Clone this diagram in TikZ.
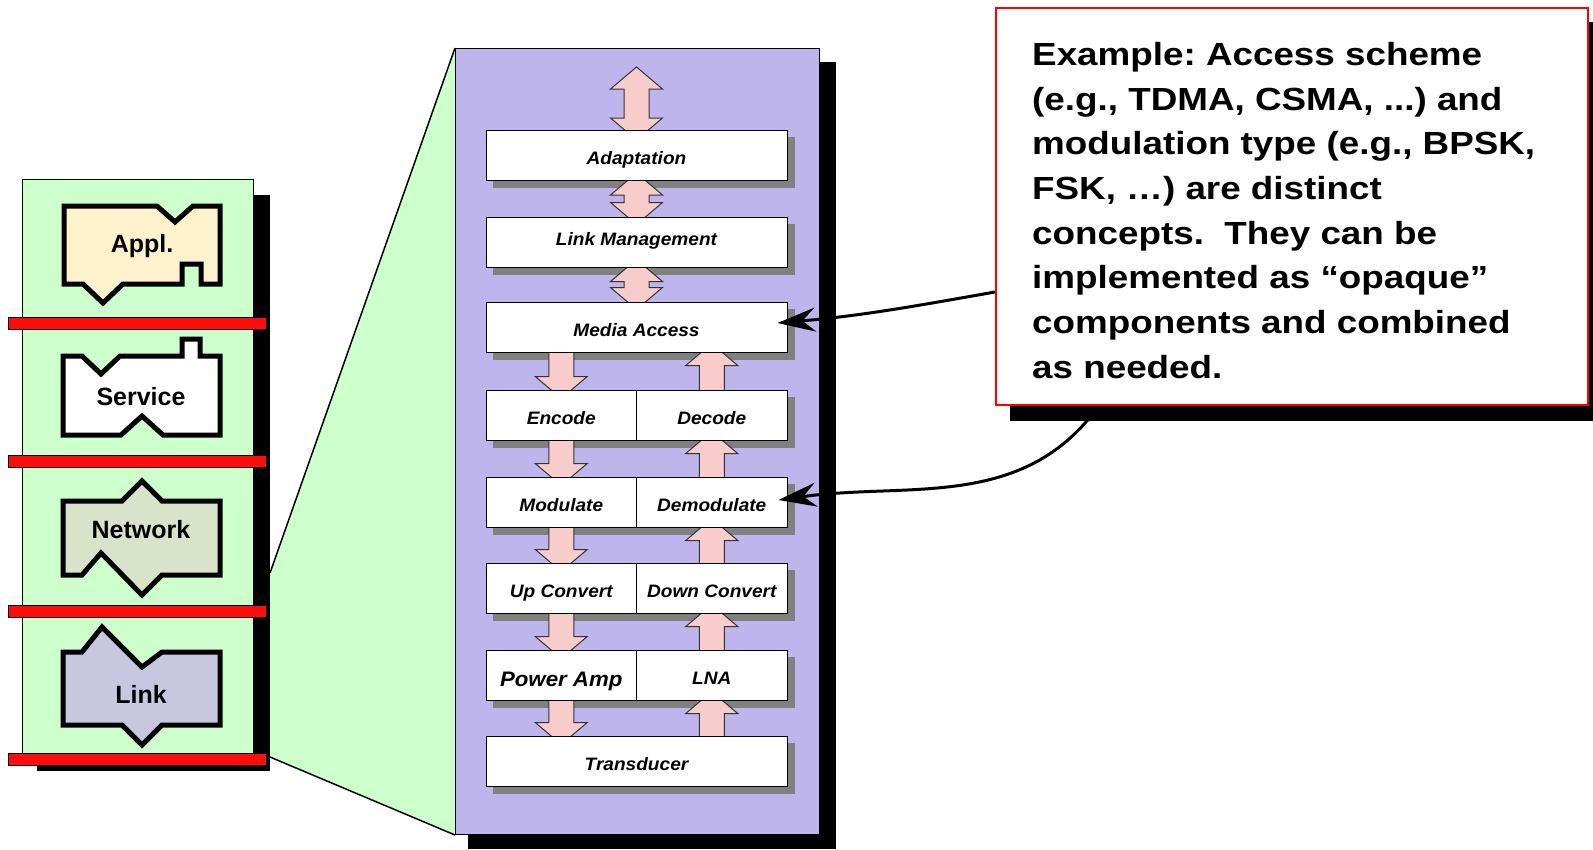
\documentclass[tikz,border=0pt]{standalone}
\usepackage{fontspec}
\setmainfont{Liberation Sans}
\newfontfamily\notefont[FakeStretch=1.15]{Liberation Sans}
\newfontfamily\blkfont[FakeStretch=1.06]{Liberation Sans}
\usetikzlibrary{arrows.meta}

\definecolor{panelgreen}{RGB}{204,255,204}
\definecolor{panelpurple}{RGB}{189,181,235}
\definecolor{applfill}{RGB}{253,242,204}
\definecolor{netfill}{RGB}{217,227,202}
\definecolor{linkfill}{RGB}{201,199,224}
\definecolor{barred}{RGB}{255,13,13}
\definecolor{arrowpink}{RGB}{249,204,204}

\pgfdeclarelayer{bg}
\pgfdeclarelayer{shd}
\pgfdeclarelayer{arr}
\pgfsetlayers{bg,shd,arr,main}

\tikzset{
  layer/.style={draw=black, line width=5pt, line join=miter},
  layerlabel/.style={font=\fontsize{25}{30}\selectfont\bfseries},
  blk/.style={draw=black, fill=white, line width=1pt, minimum height=50pt,
    inner sep=0pt, text height=18pt, text depth=0pt,
    font=\blkfont\fontsize{18}{20}\selectfont\bfseries\itshape},
  fullblk/.style={blk, minimum width=301pt},
  halfblk/.style={blk, minimum width=150.5pt},
  boxshadow/.style={fill=gray},
  arrowbody/.style={fill=arrowpink, draw=black!80, line width=1pt, line join=miter},
  redbar/.style={fill=barred, draw=black, line width=1pt},
  pointer/.style={line width=3pt, -{Stealth[length=38pt, width=24pt, inset=13pt]}}
}

% pink block arrows: shaft end #1, head base #2, tip shift #3
\newcommand{\sglarr}[3]{%
  \filldraw[arrowbody] ([xshift=-12.5pt]#1) -- ([xshift=12.5pt]#1) -- ([xshift=12.5pt]#2)
    -- ([xshift=26pt]#2) -- ([yshift=#3]#2) -- ([xshift=-26pt]#2) -- ([xshift=-12.5pt]#2) -- cycle;}
% from #1 down into #2, in the column of #3
\newcommand{\dnarr}[3]{%
  \path (#3.center |- #1.center) coordinate (s) (#3.center |- #2.north) coordinate (h0)
    ([yshift=13pt]h0) coordinate (h);
  \sglarr{s}{h}{-22pt}}
% from #1 up into #2, in the column of #3
\newcommand{\uparr}[3]{%
  \path (#3.center |- #1.center) coordinate (s) (#3.center |- #2.south) coordinate (h0)
    ([yshift=-13pt]h0) coordinate (h);
  \sglarr{s}{h}{22pt}}
% double arrow between head bases #1 (top) and #2 (bottom)
\newcommand{\dblarr}[2]{%
  \filldraw[arrowbody] ([xshift=-12.5pt]#1) -- ([xshift=-26pt]#1) -- ([yshift=22pt]#1)
    -- ([xshift=26pt]#1) -- ([xshift=12.5pt]#1) -- ([xshift=12.5pt]#2) -- ([xshift=26pt]#2)
    -- ([yshift=-22pt]#2) -- ([xshift=-26pt]#2) -- ([xshift=-12.5pt]#2) -- cycle;}
\newcommand{\dblbetween}[2]{%
  \path ([yshift=-14pt]#1.south) coordinate (d1) ([yshift=14pt]#2.north) coordinate (d2);
  \dblarr{d1}{d2}}

\begin{document}
\frenchspacing
\begin{tikzpicture}[x=1pt, y=-1pt]
  \useasboundingbox (0,0) rectangle (1593,849);

  \begin{pgfonlayer}{bg}
    % zoom wedge
    \fill[panelgreen] (270,573) -- (455,48) -- (455,835) -- (270,757) -- cycle;
    \draw[line width=1.5pt] (270,573) -- (455,48);
    \draw[line width=1.5pt] (270,757) -- (455,835);

    % protocol stack
    \fill[black] (37,195) rectangle (270,771);
    \filldraw[fill=panelgreen, draw=black, line width=1pt] (22,179) rectangle (253,753);
    \filldraw[layer, fill=applfill] (64,206) -- (157,206) -- (175,222) -- (193,206) -- (220,206)
      -- (220,284) -- (201,284) -- (201,264) -- (182,264) -- (182,284) -- (123,284) -- (103,303)
      -- (83,284) -- (64,284) -- cycle;
    \filldraw[layer, fill=white] (63,356) -- (82,356) -- (101,374) -- (120,356) -- (182,356)
      -- (182,339) -- (200,339) -- (200,356) -- (220,356) -- (220,435) -- (163,435) -- (142,416)
      -- (121,435) -- (63,435) -- cycle;
    \filldraw[layer, fill=netfill] (63,501) -- (122,501) -- (142,481) -- (162,501) -- (220,501)
      -- (220,575) -- (162,575) -- (142,595) -- (101,553) -- (82,575) -- (63,575) -- cycle;
    \filldraw[layer, fill=linkfill] (63,652) -- (82,652) -- (102,627) -- (142,667) -- (162,652)
      -- (220,652) -- (220,725) -- (162,725) -- (142,745) -- (122,725) -- (63,725) -- cycle;
    \foreach \y in {317,455,605,753}
      \filldraw[redbar] (8,\y) rectangle (266,\y+12);
    \node[layerlabel] (appl) at (142,246) {Appl.};
    \node[layerlabel] (serv) at (141,397) {Service};
    \node[layerlabel] (netw) at (141,530) {Network};
    \node[layerlabel] (link) at (141,694) {Link};

    % link layer detail
    \fill[black] (468,62) rectangle (836,849);
    \filldraw[fill=panelpurple, draw=black, line width=1pt] (455,48) rectangle (819,834);
  \end{pgfonlayer}

  % blocks
  \node[fullblk] (adapt) at (636.5,155.5) {Adaptation};
  \node[fullblk, text height=6pt] (linkm) at (636.5,242) {Link Management};
  \node[fullblk] (media) at (636.5,327) {Media Access};
  \node[halfblk] (enc) at (561.25,415) {Encode};
  \node[halfblk] (dec) at (711.75,415) {Decode};
  \node[halfblk] (mod) at (561.25,502) {Modulate};
  \node[halfblk] (demod) at (711.75,502) {Demodulate};
  \node[halfblk] (upc) at (561.25,588) {Up Convert};
  \node[halfblk] (downc) at (711.75,588) {Down Convert};
  \node[halfblk, text height=22pt, font=\blkfont\fontsize{21}{24}\selectfont\bfseries\itshape] (pamp) at (561.25,675) {Power Amp};
  \node[halfblk] (lna) at (711.75,675) {LNA};
  \node[fullblk] (transd) at (636.5,761) {Transducer};

  \begin{pgfonlayer}{shd}
    \foreach \b in {adapt,linkm,media,enc,dec,mod,demod,upc,downc,pamp,lna,transd}
      \fill[boxshadow] ([shift={(7,7)}]\b.north west) rectangle ([shift={(7,7)}]\b.south east);
  \end{pgfonlayer}

  \begin{pgfonlayer}{arr}
    \path ([yshift=41pt]adapt.north) coordinate (t1) ([yshift=12pt]adapt.north) coordinate (t2);
    \dblarr{t1}{t2}
    \dblbetween{adapt}{linkm}
    \dblbetween{linkm}{media}
    \dnarr{media}{enc}{enc}
    \dnarr{enc}{mod}{enc}
    \dnarr{mod}{upc}{enc}
    \dnarr{upc}{pamp}{enc}
    \dnarr{pamp}{transd}{enc}
    \uparr{dec}{media}{dec}
    \uparr{demod}{dec}{dec}
    \uparr{downc}{demod}{dec}
    \uparr{lna}{downc}{dec}
    \uparr{transd}{lna}{dec}
  \end{pgfonlayer}

  % note
  \coordinate (n1) at (995,292);
  \coordinate (n2) at (1100,404);
  \draw[pointer] (n1) to[out=190, in=5] ([xshift=-10pt, yshift=4pt]media.east);
  \draw[pointer] (n2) to[out=235, in=8] ([xshift=-9pt, yshift=2pt]demod.east);
  \fill[black] (1010,22) rectangle (1593,421);
  \node[draw=red, fill=white, line width=2pt, minimum width=592pt, minimum height=397pt,
    anchor=north west] (note) at (995,7) {};
  \node[anchor=north west, inner sep=0pt, align=left,
    font=\notefont\fontsize{32}{44.7}\selectfont\bfseries] (notetext) at (1032,42)
    {Example: Access scheme\\(e.g., TDMA, CSMA, ...) and\\modulation type (e.g., BPSK,\\FSK, …) are distinct\\concepts.\ \ They can be\\implemented as “opaque”\\components and combined\\as needed.};
\end{tikzpicture}
\end{document}
